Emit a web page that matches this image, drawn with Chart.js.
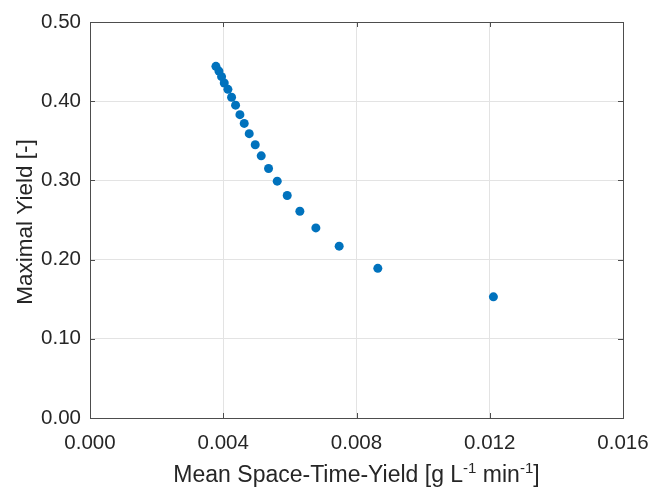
<!DOCTYPE html>
<html>
<head>
<meta charset="utf-8">
<script src="https://cdn.jsdelivr.net/npm/chart.js@4/dist/chart.umd.min.js"></script>
<style>
  html, body { margin: 0; padding: 0; background: #fff; }
  #wrap { width: 651px; height: 488px; }
</style>
</head>
<body>
<div id="wrap"><canvas id="grafico" width="651" height="488"></canvas></div>
<script>
// valores
const stYield = [0.00378, 0.00387, 0.00395, 0.00403, 0.00414, 0.00425, 0.00437, 0.00450, 0.00463, 0.00478,
                 0.00496, 0.00514, 0.00536, 0.00562, 0.00592, 0.00630, 0.00678, 0.00748, 0.00864, 0.01211];
const maxYield = [0.444, 0.438, 0.431, 0.423, 0.415, 0.405, 0.395, 0.383, 0.372, 0.359,
                  0.345, 0.331, 0.315, 0.299, 0.281, 0.261, 0.240, 0.217, 0.189, 0.153];
const xTicks = [0, 0.004, 0.008, 0.012, 0.016];
const yTicks = [0, 0.1, 0.2, 0.3, 0.4, 0.5];

const FONTE = "Liberation Sans, Arial, sans-serif";
const pontos = stYield.map((x, i) => ({ x, y: maxYield[i] }));

// moldura + ticks internos estilo matlab + titulos dos eixos
const moldura = {
  id: "moldura",
  afterDraw(chart) {
    const { ctx, chartArea: a, scales } = chart;
    ctx.save();
    ctx.strokeStyle = "#4d4d4d";
    ctx.lineWidth = 1;
    ctx.strokeRect(a.left + 0.5, a.top + 0.5, a.right - a.left, a.bottom - a.top);
    ctx.beginPath();
    xTicks.forEach(v => {
      const px = Math.round(scales.x.getPixelForValue(v)) + 0.5;
      ctx.moveTo(px, a.bottom); ctx.lineTo(px, a.bottom - 5);
      ctx.moveTo(px, a.top); ctx.lineTo(px, a.top + 5);
    });
    yTicks.forEach(v => {
      const py = Math.round(scales.y.getPixelForValue(v)) + 0.5;
      ctx.moveTo(a.left, py); ctx.lineTo(a.left + 5, py);
      ctx.moveTo(a.right, py); ctx.lineTo(a.right - 5, py);
    });
    ctx.stroke();

    ctx.fillStyle = "#262626";
    ctx.textBaseline = "alphabetic";

    // titulo x com expoentes
    const partes = [
      ["Mean Space-Time-Yield [g L", 23, 0],
      ["-1", 15, -9],
      [" min", 23, 0],
      ["-1", 15, -9],
      ["]", 23, 0]
    ];
    let total = 0;
    partes.forEach(p => { ctx.font = p[1] + "px " + FONTE; total += ctx.measureText(p[0]).width; });
    let x = (a.left + a.right) / 2 - total / 2;
    ctx.textAlign = "left";
    partes.forEach(p => {
      ctx.font = p[1] + "px " + FONTE;
      ctx.fillText(p[0], x, 482 + p[2]);
      x += ctx.measureText(p[0]).width;
    });

    // titulo y
    ctx.save();
    ctx.translate(32, (a.top + a.bottom) / 2 + 2);
    ctx.rotate(-Math.PI / 2);
    ctx.textAlign = "center";
    ctx.font = "22.5px " + FONTE;
    ctx.fillText("Maximal Yield [-]", 0, 0);
    ctx.restore();

    ctx.restore();
  }
};

new Chart(document.getElementById("grafico"), {
  type: "scatter",
  data: {
    datasets: [{
      data: pontos,
      backgroundColor: "#0072BD",
      borderColor: "#0072BD",
      pointRadius: 4.5,
      pointHoverRadius: 4.5,
      borderWidth: 0
    }]
  },
  options: {
    responsive: false,
    animation: false,
    layout: { padding: { top: 22, right: 28, left: 0, bottom: 0 } },
    plugins: { legend: { display: false }, tooltip: { enabled: false } },
    scales: {
      x: {
        type: "linear", min: 0, max: 0.016,
        afterBuildTicks: s => { s.ticks = xTicks.map(v => ({ value: v })); },
        afterFit: s => { s.height = 70; s.paddingLeft = 0; s.paddingRight = 0; },
        grid: { color: "#e3e3e3", drawTicks: false },
        border: { display: false },
        ticks: {
          color: "#262626", padding: 13,
          font: { family: FONTE, size: 20.5 },
          maxRotation: 0,
          callback: v => Number(v).toFixed(3)
        }
      },
      y: {
        type: "linear", min: 0, max: 0.5,
        afterBuildTicks: s => { s.ticks = yTicks.map(v => ({ value: v })); },
        afterFit: s => { s.width = 90; s.paddingTop = 0; s.paddingBottom = 0; },
        grid: { color: "#e3e3e3", drawTicks: false },
        border: { display: false },
        ticks: {
          color: "#262626", padding: 9,
          font: { family: FONTE, size: 20.5 },
          callback: v => Number(v).toFixed(2)
        }
      }
    }
  },
  plugins: [moldura]
});
</script>
</body>
</html>
